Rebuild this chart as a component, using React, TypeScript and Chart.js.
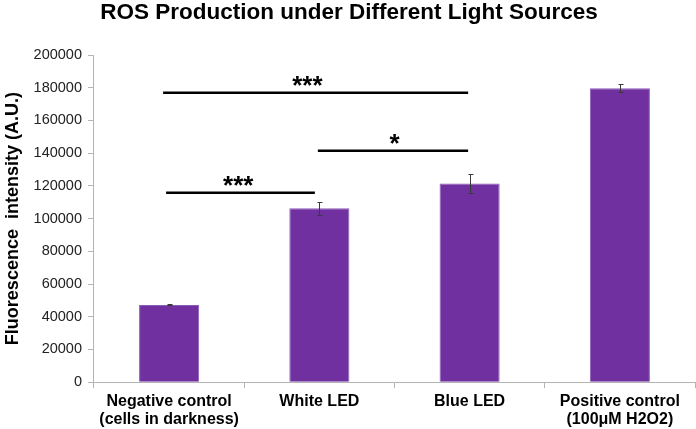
import React, { useEffect, useRef } from "react";
import { Chart, registerables } from "chart.js";

Chart.register(...registerables);

const titleText = "ROS Production under Different Light Sources";
const yTitle = "Fluorescence  intensity (A.U.)";
const categories: string[][] = [
  ["Negative control", "(cells in darkness)"],
  ["White LED"],
  ["Blue LED"],
  ["Positive control", "(100μM H2O2)"],
];
const values: number[] = [47200, 106400, 121500, 179700];
const errors: number[] = [300, 3900, 6000, 2600];
const yTicks: number[] = [0, 20000, 40000, 60000, 80000, 100000, 120000, 140000, 160000, 180000, 200000];

// significance brackets (positions in category index units)
const sigStart: number[] = [-0.04, 0.99, -0.02];
const sigEnd: number[] = [1.99, 1.99, 0.97];
const sigLevel: number[] = [177000, 141500, 115800];
const sigLabel: string[] = ["***", "*", "***"];
const sigLabelPos: number[] = [0.92, 1.5, 0.46];

const FONT = "'Liberation Sans', Arial, sans-serif";

const errorBarPlugin = {
  id: "errorBars",
  afterDatasetsDraw(chart: any) {
    const { ctx, scales } = chart;
    const meta = chart.getDatasetMeta(0);
    ctx.save();
    ctx.strokeStyle = "#3a3a3a";
    ctx.lineWidth = 1;
    meta.data.forEach((bar: any, i: number) => {
      const x = Math.round(bar.x) + 0.5;
      const yTop = Math.round(scales.y.getPixelForValue(values[i] + errors[i])) + 0.5;
      const yBot = Math.round(scales.y.getPixelForValue(values[i] - errors[i])) + 0.5;
      ctx.beginPath();
      ctx.moveTo(x, yTop);
      ctx.lineTo(x, yBot);
      ctx.moveTo(x - 2, yTop);
      ctx.lineTo(x + 3, yTop);
      ctx.moveTo(x - 2, yBot);
      ctx.lineTo(x + 3, yBot);
      ctx.stroke();
    });
    ctx.restore();
  },
};

const annotatePlugin = {
  id: "annotate",
  afterDraw(chart: any) {
    const { ctx, scales, width } = chart;
    ctx.save();
    ctx.fillStyle = "#000";
    ctx.font = `bold 22.5px ${FONT}`;
    ctx.textAlign = "center";
    ctx.textBaseline = "alphabetic";
    ctx.fillText(titleText, width / 2 + 1, 19);
    ctx.strokeStyle = "#000";
    ctx.lineWidth = 2.5;
    ctx.font = `bold 26px ${FONT}`;
    sigLevel.forEach((lv, i) => {
      const y = scales.y.getPixelForValue(lv);
      const x1 = scales.x.getPixelForValue(sigStart[i]);
      const x2 = scales.x.getPixelForValue(sigEnd[i]);
      ctx.beginPath();
      ctx.moveTo(x1, y);
      ctx.lineTo(x2, y);
      ctx.stroke();
      const lx = scales.x.getPixelForValue(sigLabelPos[i]);
      ctx.fillText(sigLabel[i], lx, y + 1);
    });
    ctx.restore();
  },
};

export default function App() {
  const ref = useRef<HTMLCanvasElement>(null);
  useEffect(() => {
    document.body.style.margin = "0";
    const chart = new Chart(ref.current!, {
      type: "bar",
      data: {
        labels: categories,
        datasets: [
          {
            data: values,
            backgroundColor: "#7030A0",
            borderColor: "#8d5bb8",
            borderWidth: 1,
            barPercentage: 0.4,
            categoryPercentage: 1,
          },
        ],
      },
      options: {
        animation: false,
        responsive: false,
        layout: { padding: { left: 0, right: 1, top: 55, bottom: -4 } },
        plugins: {
          legend: { display: false },
          tooltip: { enabled: false },
          title: { display: false },
        },
        scales: {
          x: {
            offset: true,
            grid: {
              offset: true,
              drawOnChartArea: false,
              color: "#b4b4b4",
              tickLength: 6,
            },
            border: { color: "#b4b4b4" },
            ticks: {
              color: "#000",
              font: { family: FONT, size: 16, weight: "bold", lineHeight: 1.15 },
              maxRotation: 0,
              autoSkip: false,
              padding: 4,
            },
          },
          y: {
            min: 0,
            max: 200000,
            afterBuildTicks(axis: any) {
              axis.ticks = yTicks.map((v) => ({ value: v }));
            },
            grid: {
              drawOnChartArea: false,
              color: "#b4b4b4",
              tickLength: 6,
            },
            border: { color: "#b4b4b4" },
            ticks: {
              color: "#222",
              font: { family: FONT, size: 14.5 },
              padding: 6,
              callback: (v: any) => String(v),
            },
            title: {
              display: true,
              text: yTitle,
              color: "#000",
              font: { family: FONT, size: 18, weight: "bold" },
              padding: { top: 2, bottom: 4 },
            },
          },
        },
      },
      plugins: [errorBarPlugin, annotatePlugin],
    });
    return () => chart.destroy();
  }, []);
  return (
    <div style={{ position: "absolute", left: 0, top: 0, width: 696, height: 429 }}>
      <canvas ref={ref} width={696} height={429} />
    </div>
  );
}
